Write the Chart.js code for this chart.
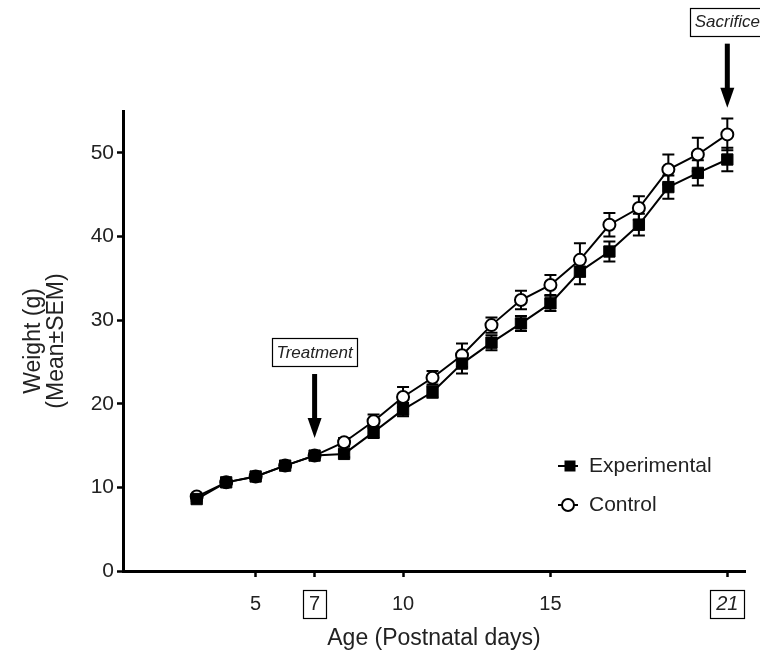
<!DOCTYPE html>
<html lang="en">
<head>
  <meta charset="UTF-8" />
  <title>Weight by postnatal age</title>
  <script src="https://cdn.jsdelivr.net/npm/chart.js"></script>
  <style>
    html, body { margin: 0; padding: 0; background: #fff; }
  </style>
</head>
<body>
  <canvas id="weightChart" width="760" height="658"></canvas>

  <script>
    // Data
    const days = [3, 4, 5, 6, 7, 8, 9, 10, 11, 12, 13, 14, 15, 16, 17, 18, 19, 20, 21];
    const expWeight  = [8.6, 10.6, 11.3, 12.6, 13.8, 14.0, 16.6, 19.3, 21.4, 24.8, 27.3, 29.6, 32.0, 35.8, 38.2, 41.4, 45.9, 47.6, 49.2];
    const expSem     = [0.2, 0.2, 0.2, 0.2, 0.2, 0.4, 0.7, 0.8, 0.7, 1.2, 0.9, 0.9, 0.9, 1.5, 1.2, 1.3, 1.4, 1.5, 1.4];
    const ctrlWeight = [8.9, 10.6, 11.3, 12.6, 13.8, 15.4, 17.9, 20.8, 23.1, 25.8, 29.4, 32.4, 34.2, 37.2, 41.4, 43.4, 48.0, 49.8, 52.2];
    const ctrlSem    = [0.2, 0.2, 0.2, 0.2, 0.2, 0.5, 0.8, 1.2, 0.8, 1.4, 0.9, 1.1, 1.2, 2.0, 1.4, 1.4, 1.8, 2.0, 1.9];
    const xTicks = [5, 7, 10, 15, 21];
    const boxedTicks = [7, 21];
    const yTicks = [0, 10, 20, 30, 40, 50];
    const notes = [
      { label: 'Treatment', day: 7, tip: 15.9 },
      { label: 'Sacrifice', day: 21, tip: 55.4 }
    ];

    const FONT = '"Liberation Sans", Arial, Helvetica, sans-serif';
    const TEXT = '#222';

    // error bars drawn under the markers
    const errorBars = {
      id: 'errorBars',
      beforeDatasetsDraw(chart) {
        const { ctx, scales: { x, y } } = chart;
        ctx.save();
        ctx.strokeStyle = '#000';
        ctx.lineWidth = 2;
        [[expWeight, expSem], [ctrlWeight, ctrlSem]].forEach(([vals, sems]) => {
          vals.forEach((v, i) => {
            const px = x.getPixelForValue(days[i]);
            const top = y.getPixelForValue(v + sems[i]);
            const bot = y.getPixelForValue(v - sems[i]);
            ctx.beginPath();
            ctx.moveTo(px, top); ctx.lineTo(px, bot);
            ctx.moveTo(px - 6, top); ctx.lineTo(px + 6, top);
            ctx.moveTo(px - 6, bot); ctx.lineTo(px + 6, bot);
            ctx.stroke();
          });
        });
        ctx.restore();
      }
    };

    // boxed tick labels, arrow notes and the legend
    const extras = {
      id: 'extras',
      afterDraw(chart) {
        const { ctx, scales: { x, y } } = chart;
        ctx.save();
        ctx.strokeStyle = '#000';
        ctx.fillStyle = '#000';

        // boxes around 7 and 21
        ctx.lineWidth = 1.2;
        boxedTicks.forEach(v => {
          ctx.font = (v === 21 ? 'italic ' : '') + '20px ' + FONT;
          const w = ctx.measureText(String(v)).width + 12;
          const px = x.getPixelForValue(v);
          ctx.strokeRect(Math.round(px - w / 2) + 0.5, x.top + 19.5, Math.round(w), 28);
        });

        // arrows with labels
        notes.forEach(n => {
          const px = x.getPixelForValue(n.day);
          const tipY = y.getPixelForValue(n.tip);
          const headLen = 20, shaftLen = 44;
          ctx.fillRect(px - 2.5, tipY - headLen - shaftLen, 5, shaftLen + 1);
          ctx.beginPath();
          ctx.moveTo(px - 7, tipY - headLen);
          ctx.lineTo(px + 7, tipY - headLen);
          ctx.lineTo(px, tipY);
          ctx.closePath();
          ctx.fill();

          ctx.font = 'italic 17px ' + FONT;
          const w = ctx.measureText(n.label).width + 9;
          const boxBottom = tipY - headLen - shaftLen - 8;
          ctx.lineWidth = 1.2;
          ctx.strokeRect(Math.round(px - w / 2) + 0.5, Math.round(boxBottom - 28) + 0.5, Math.round(w), 28);
          ctx.fillStyle = TEXT;
          ctx.textAlign = 'center';
          ctx.textBaseline = 'middle';
          ctx.fillText(n.label, px, boxBottom - 13);
          ctx.fillStyle = '#000';
        });

        // legend
        const lx = 570, ly = [466, 505];
        ctx.lineWidth = 2;
        ctx.beginPath();
        ctx.moveTo(lx - 12, ly[0]); ctx.lineTo(lx + 8, ly[0]);
        ctx.moveTo(lx - 12, ly[1]); ctx.lineTo(lx + 8, ly[1]);
        ctx.stroke();
        ctx.fillRect(lx - 5.5, ly[0] - 5.5, 11, 11);
        ctx.beginPath();
        ctx.arc(lx - 2, ly[1], 6, 0, Math.PI * 2);
        ctx.fillStyle = '#fff';
        ctx.fill();
        ctx.stroke();
        ctx.fillStyle = TEXT;
        ctx.font = '21px ' + FONT;
        ctx.textAlign = 'left';
        ctx.textBaseline = 'middle';
        ctx.fillText('Experimental', 589, ly[0]);
        ctx.fillText('Control', 589, ly[1]);
        ctx.restore();
      }
    };

    const toPoints = vals => days.map((d, i) => ({ x: d, y: vals[i] }));

    new Chart(document.getElementById('weightChart'), {
      type: 'line',
      data: {
        datasets: [
          {
            label: 'Experimental',
            data: toPoints(expWeight),
            borderColor: '#000',
            borderWidth: 2,
            pointStyle: 'rect',
            pointRadius: 8,
            pointBackgroundColor: '#000',
            pointBorderColor: '#000',
            pointBorderWidth: 1,
            tension: 0
          },
          {
            label: 'Control',
            data: toPoints(ctrlWeight),
            borderColor: '#000',
            borderWidth: 2,
            pointStyle: 'circle',
            pointRadius: 6,
            pointBackgroundColor: '#fff',
            pointBorderColor: '#000',
            pointBorderWidth: 2,
            tension: 0
          }
        ]
      },
      options: {
        responsive: false,
        animation: false,
        layout: { padding: { top: 111, right: 15, left: 0, bottom: 0 } },
        plugins: { legend: { display: false }, tooltip: { enabled: false } },
        scales: {
          x: {
            type: 'linear',
            min: 0.5,
            max: 21.6,
            border: { display: true, color: '#000', width: 3 },
            grid: { display: true, drawOnChartArea: false, drawTicks: true, tickLength: 6, tickWidth: 2.5, tickColor: '#000' },
            afterBuildTicks: s => { s.ticks = xTicks.map(v => ({ value: v })); },
            afterFit: s => { s.height = 87; },
            ticks: {
              autoSkip: false,
              maxRotation: 0,
              padding: 15,
              color: TEXT,
              font: c => ({ family: FONT, size: 20, style: (c.tick && c.tick.value === 21) ? 'italic' : 'normal' })
            },
            title: {
              display: true,
              text: 'Age (Postnatal days)',
              color: TEXT,
              font: { family: FONT, size: 23 },
              padding: { top: 0, bottom: 6 }
            }
          },
          y: {
            min: 0,
            max: 55,
            border: { display: true, color: '#000', width: 3 },
            grid: { display: true, drawOnChartArea: false, drawTicks: true, tickLength: 6, tickWidth: 2.5, tickColor: '#000' },
            afterBuildTicks: s => { s.ticks = yTicks.map(v => ({ value: v })); },
            afterFit: s => { s.width = 123; },
            ticks: { padding: 3, color: TEXT, font: { family: FONT, size: 21 } },
            title: {
              display: true,
              text: ['Weight (g)', '(Mean\u00B1SEM)'],
              color: TEXT,
              font: { family: FONT, size: 23, lineHeight: 1.0 },
              padding: { top: 22, bottom: 0 }
            }
          }
        }
      },
      plugins: [errorBars, extras]
    });
  </script>
</body>
</html>
